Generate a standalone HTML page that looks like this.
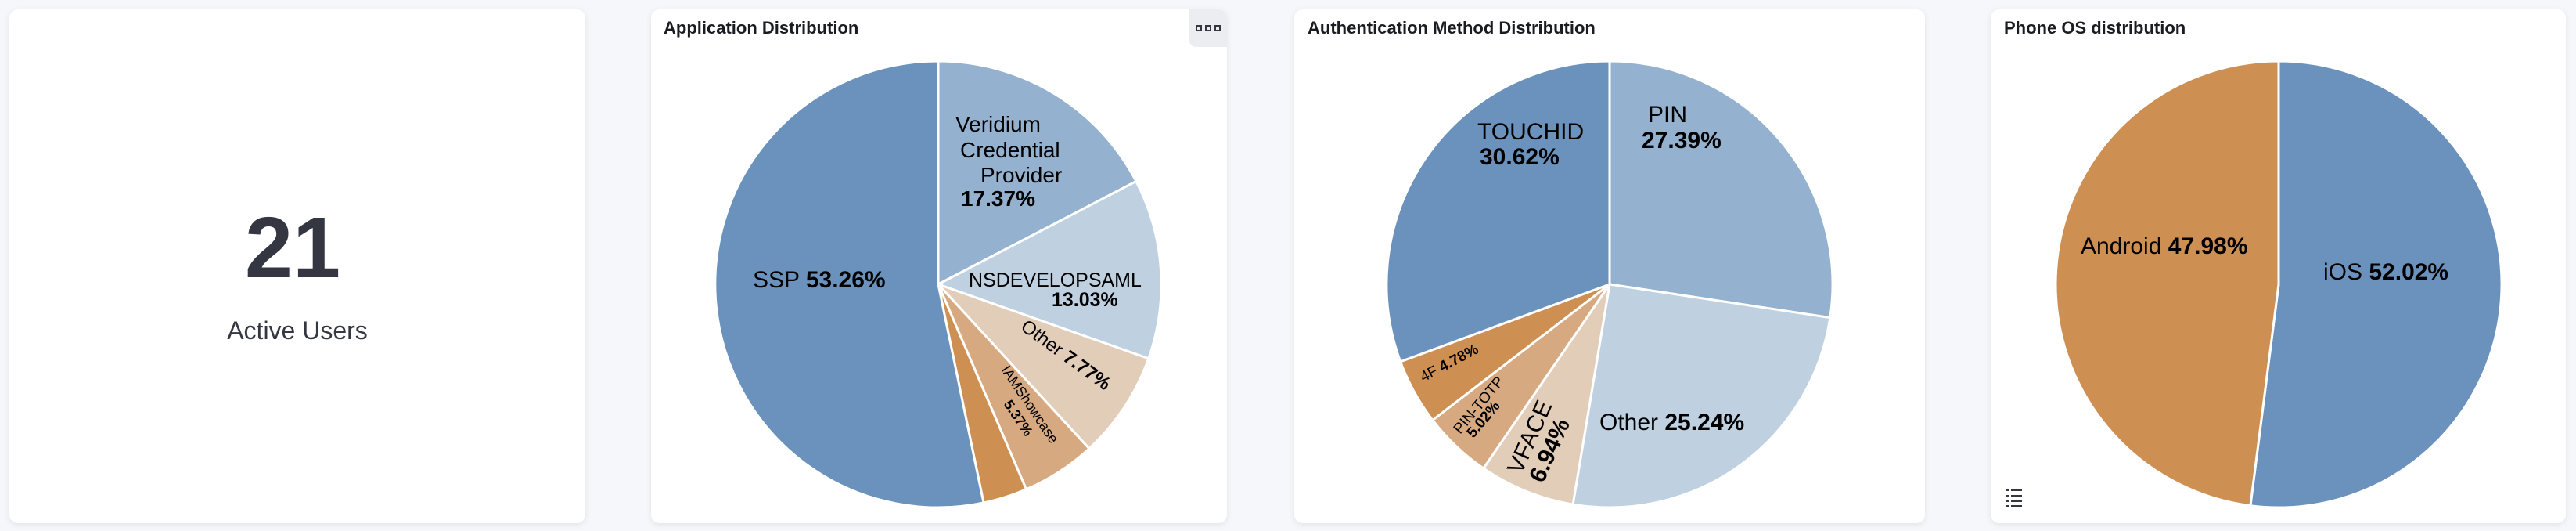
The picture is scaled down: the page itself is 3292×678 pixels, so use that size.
<!DOCTYPE html>
<html><head><meta charset="utf-8"><style>
html,body{margin:0;padding:0;background:#f6f7fb;width:3292px;height:678px;overflow:hidden}
svg{display:block}
text{font-family:"Liberation Sans",Arial,sans-serif}
</style></head><body>
<svg width="3292" height="678" viewBox="0 0 3292 678" xmlns="http://www.w3.org/2000/svg">
<defs><filter id="sh" x="-5%" y="-5%" width="110%" height="110%"><feDropShadow dx="0" dy="2" stdDeviation="4" flood-color="#000" flood-opacity="0.08"/></filter></defs>
<rect width="3292" height="678" fill="#f6f7fb"/>
<!-- cards -->
<rect x="12" y="12" width="736" height="656" rx="11" fill="#fff" filter="url(#sh)"/>
<rect x="832" y="12" width="736" height="656" rx="11" fill="#fff" filter="url(#sh)"/>
<rect x="1654" y="12" width="806" height="656" rx="11" fill="#fff" filter="url(#sh)"/>
<rect x="2544" y="12" width="735" height="656" rx="11" fill="#fff" filter="url(#sh)"/>

<!-- panel 1 -->
<text x="374" y="354" text-anchor="middle" font-size="110" font-weight="bold" fill="#343741">21</text>
<text x="380" y="433" text-anchor="middle" font-size="32" fill="#343741">Active Users</text>

<!-- panel 2 -->
<text x="848" y="43" font-size="22" font-weight="bold" fill="#1a1c21">Application Distribution</text>
<path d="M1520 12 H1557 A11 11 0 0 1 1568 23 V60 H1528 A8 8 0 0 1 1520 52 Z" fill="#ebedf1"/>
<g fill="none" stroke="#343741" stroke-width="2"><rect x="1529" y="33" width="6" height="6"/><rect x="1541" y="33" width="6" height="6"/><rect x="1553" y="33" width="6" height="6"/></g>
<g stroke="#fff" stroke-width="3" stroke-linejoin="round">
<path d="M1199 363 L1199 78 A285 285 0 0 1 1451.9 231.5 Z" fill="#94b1cf"/>
<path d="M1199 363 L1451.9 231.5 A285 285 0 0 1 1467.8 457.8 Z" fill="#bfd0e1"/>
<path d="M1199 363 L1467.8 457.8 A285 285 0 0 1 1391.9 572.8 Z" fill="#e2cdb9"/>
<path d="M1199 363 L1391.9 572.8 A285 285 0 0 1 1311.5 624.8 Z" fill="#d7a981"/>
<path d="M1199 363 L1311.5 624.8 A285 285 0 0 1 1257 642 Z" fill="#ce8f53"/>
<path d="M1199 363 L1257 642 A285 285 0 1 1 1199 78 Z" fill="#6a92bd"/>
</g>
<g fill="#000">
<text x="1221" y="168" font-size="28">Veridium</text>
<text x="1227" y="201" font-size="28">Credential</text>
<text x="1253" y="233" font-size="28">Provider</text>
<text x="1228" y="263" font-size="28" font-weight="bold">17.37%</text>
<text x="962" y="367" font-size="30">SSP <tspan font-weight="bold">53.26%</tspan></text>
<text x="1238" y="366" font-size="25">NSDEVELOPSAML</text>
<text x="1344" y="391" font-size="25" font-weight="bold">13.03%</text>
<text transform="translate(1303,420) rotate(36)" font-size="24">Other <tspan font-weight="bold">7.77%</tspan></text>
<text transform="translate(1279,472) rotate(56)" font-size="18">IAMShowcase</text>
<text transform="translate(1282,516) rotate(56)" font-size="18" font-weight="bold">5.37%</text>
</g>

<!-- panel 3 -->
<text x="1671" y="43" font-size="22" font-weight="bold" fill="#1a1c21">Authentication Method Distribution</text>
<g stroke="#fff" stroke-width="3" stroke-linejoin="round">
<path d="M2057 363 L2057 78 A285 285 0 0 1 2338.8 405.6 Z" fill="#94b1cf"/>
<path d="M2057 363 L2338.8 405.6 A285 285 0 0 1 2010.1 644.1 Z" fill="#bfd0e1"/>
<path d="M2057 363 L2010.1 644.1 A285 285 0 0 1 1895.8 598 Z" fill="#e2cdb9"/>
<path d="M2057 363 L1895.8 598 A285 285 0 0 1 1830.8 536.4 Z" fill="#d7a981"/>
<path d="M2057 363 L1830.8 536.4 A285 285 0 0 1 1789.6 461.8 Z" fill="#ce8f53"/>
<path d="M2057 363 L1789.6 461.8 A285 285 0 0 1 2057 78 Z" fill="#6a92bd"/>
</g>
<g fill="#000">
<text x="1888" y="178" font-size="30">TOUCHID</text>
<text x="1891" y="210" font-size="30" font-weight="bold">30.62%</text>
<text x="2106" y="156" font-size="30">PIN</text>
<text x="2098" y="189" font-size="30" font-weight="bold">27.39%</text>
<text x="2044" y="549" font-size="30">Other <tspan font-weight="bold">25.24%</tspan></text>
<text transform="translate(1819,488) rotate(-28)" font-size="19">4F <tspan font-weight="bold">4.78%</tspan></text>
<text transform="translate(1866,555) rotate(-50)" font-size="19">PIN-TOTP</text>
<text transform="translate(1883,560) rotate(-50)" font-size="19" font-weight="bold">5.02%</text>
<text transform="translate(1944,607) rotate(-66)" font-size="30">VFACE</text>
<text transform="translate(1972,618) rotate(-66)" font-size="30" font-weight="bold">6.94%</text>
</g>

<!-- panel 4 -->
<text x="2561" y="43" font-size="22" font-weight="bold" fill="#1a1c21">Phone OS distribution</text>
<g stroke="#fff" stroke-width="3" stroke-linejoin="round">
<path d="M2912 363 L2912 78 A285 285 0 1 1 2875.9 645.7 Z" fill="#6a92bd"/>
<path d="M2912 363 L2875.9 645.7 A285 285 0 0 1 2912 78 Z" fill="#ce8f53"/>
</g>
<g fill="#000">
<text x="2659" y="324" font-size="30">Android <tspan font-weight="bold">47.98%</tspan></text>
<text x="2969" y="357" font-size="30">iOS <tspan font-weight="bold">52.02%</tspan></text>
</g>
<g fill="#343741">
<rect x="2564" y="625" width="3" height="2"/><rect x="2570" y="625" width="14" height="2"/>
<rect x="2564" y="632" width="3" height="2"/><rect x="2570" y="632" width="14" height="2"/>
<rect x="2564" y="639" width="3" height="2"/><rect x="2570" y="639" width="14" height="2"/>
<rect x="2564" y="645" width="3" height="2"/><rect x="2570" y="645" width="14" height="2"/>
</g>
</svg>
</body></html>
